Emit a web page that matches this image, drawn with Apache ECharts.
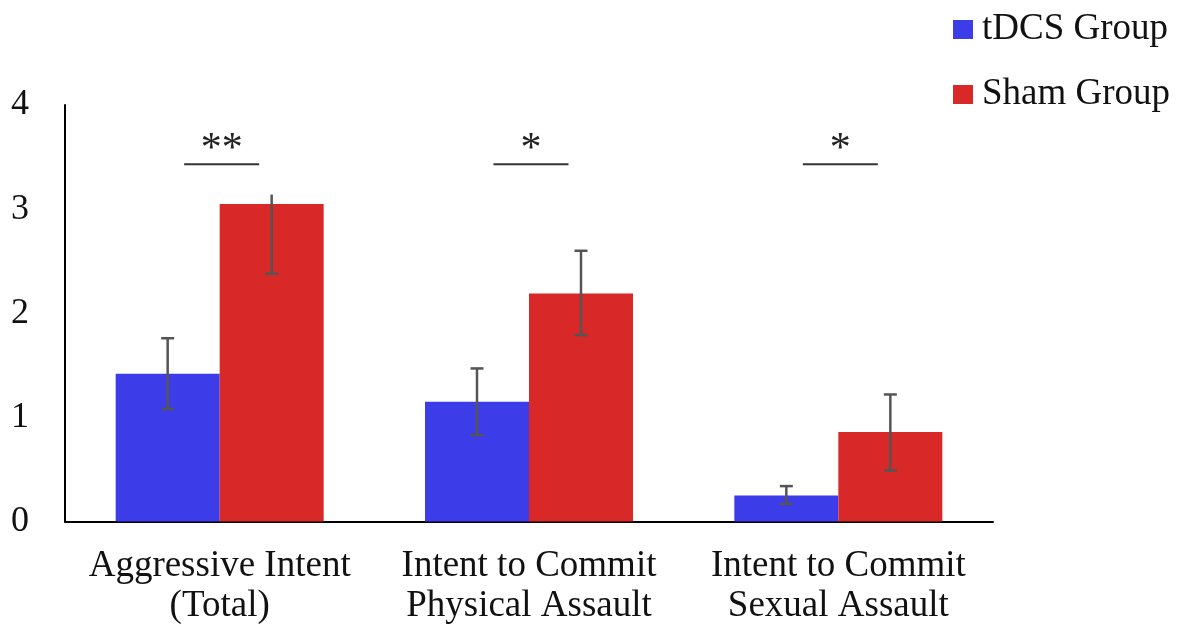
<!DOCTYPE html>
<html>
<head>
<meta charset="utf-8">
<script src="https://cdn.jsdelivr.net/npm/echarts@6/dist/echarts.min.js"></script>
<style>
  html, body { margin: 0; padding: 0; background: #fff; }
  #chart { width: 1177px; height: 627px; }
</style>
</head>
<body>
<div id="chart"></div>
<script>
// ---- data ----
var categories = ['Aggressive Intent\n(Total)', 'Intent to Commit\nPhysical Assault', 'Intent to Commit\nSexual Assault'];
var seriesNames = ['tDCS Group', 'Sham Group'];
var tdcsValues = [1.42, 1.15, 0.25];
var shamValues = [3.05, 2.19, 0.86];
var tdcsLow = [1.08, 0.83, 0.17];
var tdcsHigh = [1.76, 1.47, 0.34];
var shamLow = [2.38, 1.79, 0.49];
var shamHigh = [3.14, 2.60, 1.22];
var shamTopCap = [false, true, true];
var tdcsTopCap = [true, true, true];
var sigLevel = [3.43, 3.43, 3.43];
var sigLabels = ['**', '*', '*'];
var yTicks = [0, 1, 2, 3, 4];

// ---- style ----
var FONT = '"Liberation Serif", "Times New Roman", serif';
var BLUE = '#3c3ce8';
var RED = '#d82828';
var BAR_WIDTH = 104;
var ERR_COLOR = '#555555';

var chart = echarts.init(document.getElementById('chart'), null, { renderer: 'canvas' });

function errData(low, high, caps) {
  return low.map(function (l, i) { return [i, l, high[i], caps[i] ? 1 : 0]; });
}

function makeErrRender(sign) {
  return function (params, api) {
    var idx = api.value(0);
    var lowP = api.coord([idx, api.value(1)]);
    var highP = api.coord([idx, api.value(2)]);
    var x = lowP[0] + sign * BAR_WIDTH / 2;
    var capHalf = 6.5;
    var style = { stroke: ERR_COLOR, lineWidth: 2.5 };
    var children = [
      { type: 'line', shape: { x1: x, y1: lowP[1], x2: x, y2: highP[1] }, style: style },
      { type: 'line', shape: { x1: x - capHalf, y1: lowP[1], x2: x + capHalf, y2: lowP[1] }, style: style }
    ];
    if (api.value(3)) {
      children.push({ type: 'line', shape: { x1: x - capHalf, y1: highP[1], x2: x + capHalf, y2: highP[1] }, style: style });
    }
    return { type: 'group', children: children };
  };
}

var sigData = sigLevel.map(function (v, i) { return [i, v, sigLabels[i]]; });

var option = {
  backgroundColor: '#ffffff',
  animation: false,
  legend: {
    data: seriesNames,
    orient: 'vertical',
    left: 948,
    top: 6,
    icon: 'rect',
    itemWidth: 20,
    itemHeight: 19,
    itemGap: 28,
    textStyle: { fontFamily: FONT, fontSize: 37, color: '#111', lineHeight: 37, padding: [0, 0, 0, 4] }
  },
  grid: { left: 65, right: 184, top: 105, bottom: 105.5, containLabel: false },
  xAxis: {
    type: 'category',
    data: categories,
    axisLine: { show: true, lineStyle: { color: '#000', width: 2 } },
    axisTick: { show: false },
    axisLabel: { interval: 0, fontFamily: FONT, fontSize: 37, lineHeight: 40, color: '#111', margin: 25 },
    splitLine: { show: false }
  },
  yAxis: {
    type: 'value',
    min: yTicks[0],
    max: yTicks[yTicks.length - 1],
    interval: 1,
    axisLine: { show: true, lineStyle: { color: '#000', width: 2 } },
    axisTick: { show: false },
    splitLine: { show: false },
    axisLabel: { fontFamily: FONT, fontSize: 36, color: '#111', margin: 36 }
  },
  series: [
    {
      name: seriesNames[0], type: 'bar', data: tdcsValues,
      barWidth: BAR_WIDTH, barGap: '0%',
      itemStyle: { color: BLUE }
    },
    {
      name: seriesNames[1], type: 'bar', data: shamValues,
      barWidth: BAR_WIDTH, barGap: '0%',
      itemStyle: { color: RED }
    },
    {
      type: 'custom', name: 'tdcsErr', z: 5,
      renderItem: makeErrRender(-1),
      encode: { x: 0, y: [1, 2] },
      data: errData(tdcsLow, tdcsHigh, tdcsTopCap)
    },
    {
      type: 'custom', name: 'shamErr', z: 5,
      renderItem: makeErrRender(1),
      encode: { x: 0, y: [1, 2] },
      data: errData(shamLow, shamHigh, shamTopCap)
    },
    {
      type: 'custom', name: 'sig', z: 6,
      encode: { x: 0, y: 1 },
      data: sigData,
      renderItem: function (params, api) {
        var idx = api.value(0);
        var p = api.coord([idx, api.value(1)]);
        var cx = p[0] + 2;
        var half = 37.5;
        return {
          type: 'group',
          children: [
            { type: 'line', shape: { x1: cx - half, y1: p[1], x2: cx + half, y2: p[1] }, style: { stroke: '#333', lineWidth: 2 } },
            { type: 'text', style: { text: sigLabels[params.dataIndex], x: cx, y: p[1] - 14, align: 'center', verticalAlign: 'middle', fontFamily: FONT, fontSize: 42, fill: '#222' } }
          ]
        };
      }
    }
  ]
};

chart.setOption(option);
</script>
</body>
</html>
